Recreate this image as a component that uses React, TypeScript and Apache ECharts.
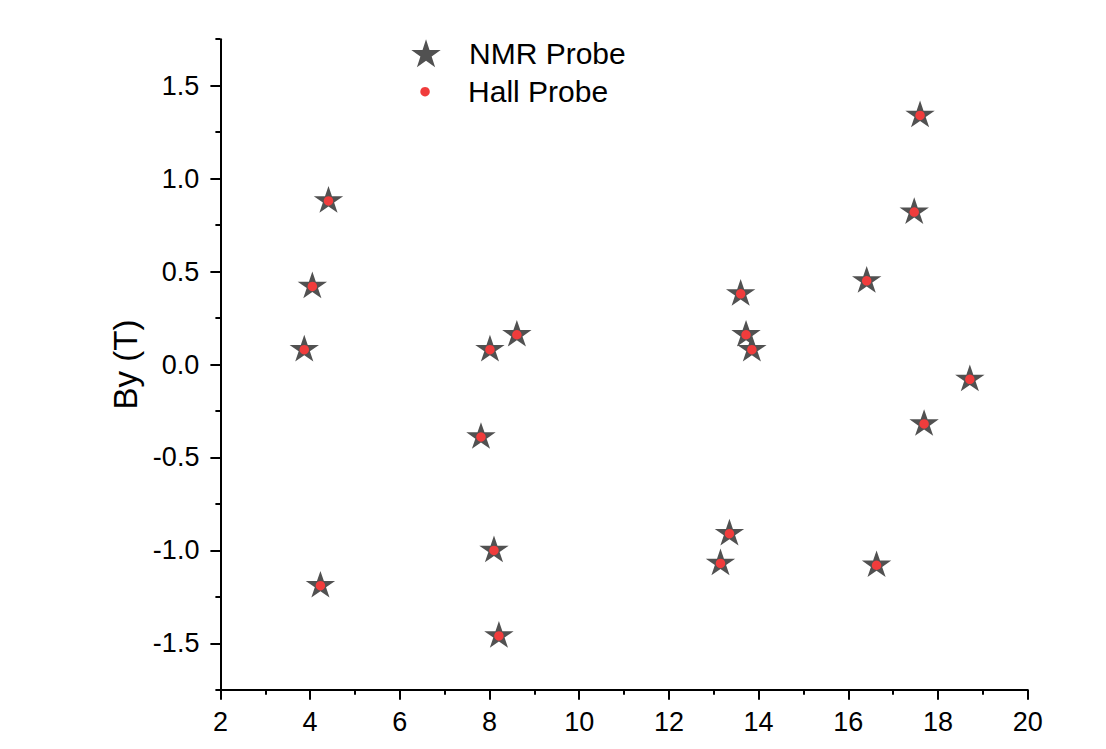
import React, { useEffect, useRef } from "react";
import * as echarts from "echarts";

const xValues = [4.41, 4.05, 3.87, 4.23, 8.61, 8.01, 7.81, 8.1, 8.21, 13.6, 13.72, 13.85, 13.35, 13.15, 17.6, 17.47, 16.41, 18.71, 17.69, 16.63];
const nmrBy = [0.88, 0.42, 0.08, -1.19, 0.16, 0.08, -0.39, -1.0, -1.46, 0.38, 0.16, 0.08, -0.91, -1.07, 1.34, 0.82, 0.45, -0.08, -0.32, -1.08];
const hallBy = [0.88, 0.42, 0.08, -1.19, 0.16, 0.08, -0.39, -1.0, -1.46, 0.38, 0.16, 0.08, -0.91, -1.07, 1.34, 0.82, 0.45, -0.08, -0.32, -1.08];
const seriesNames = ["NMR Probe", "Hall Probe"];
const yAxisTitle = "By (T)";

function starPath(): string {
  const R = 100;
  const r = 38.2;
  const pts: string[] = [];
  for (let i = 0; i < 10; i++) {
    const ang = ((-90 + i * 36) * Math.PI) / 180;
    const rad = i % 2 === 0 ? R : r;
    pts.push(`${(rad * Math.cos(ang)).toFixed(2)} ${(rad * Math.sin(ang)).toFixed(2)}`);
  }
  return "path://M" + pts.join(" L") + " Z";
}

const FONT = "'Liberation Sans', Arial, Helvetica, sans-serif";

export default function App() {
  const ref = useRef<HTMLDivElement>(null);
  useEffect(() => {
    document.body.style.margin = "0";
    if (!ref.current) return;
    const chart = echarts.init(ref.current, null, { renderer: "svg" });
    const star = starPath();
    const nmrData = xValues.map((x, i) => [x, nmrBy[i]]);
    const hallData = xValues.map((x, i) => [x, hallBy[i]]);
    const gridLeft = 220.4;
    const gridRight = 78.3;
    chart.setOption({
      animation: false,
      backgroundColor: "#ffffff",
      textStyle: { fontFamily: FONT },
      grid: [
        { left: gridLeft, right: gridRight, top: 39.2, bottom: 59.2 },
        { left: gridLeft, right: gridRight, top: 85.7, bottom: 105.7 },
      ],
      legend: [
        {
          data: [seriesNames[0]],
          left: 411.3,
          top: 38.3,
          padding: 0,
          itemWidth: 76,
          itemHeight: 28,
          symbolKeepAspect: true,
          textStyle: { fontSize: 30, color: "#000", fontFamily: FONT },
        },
        {
          data: [seriesNames[1]],
          left: 420.3,
          top: 76.7,
          padding: 0,
          itemWidth: 76,
          itemHeight: 9.5,
          symbolKeepAspect: true,
          textStyle: { fontSize: 30, color: "#000", fontFamily: FONT },
        },
      ],
      xAxis: [
        {
          type: "value",
          gridIndex: 0,
          min: 2,
          max: 20,
          interval: 2,
          axisLine: { show: true, onZero: false, lineStyle: { color: "#000", width: 2 } },
          axisTick: { show: true, length: 10, lineStyle: { color: "#000", width: 2 } },
          minorTick: { show: true, splitNumber: 2, length: 5, lineStyle: { color: "#000", width: 2 } },
          axisLabel: { fontSize: 27, color: "#000", margin: 19, fontFamily: FONT },
          splitLine: { show: false },
        },
        {
          type: "value",
          gridIndex: 1,
          min: 2,
          max: 20,
          show: false,
        },
      ],
      yAxis: [
        {
          type: "value",
          gridIndex: 0,
          min: -1.75,
          max: 1.75,
          interval: 0.25,
          axisLine: { show: true, onZero: false, lineStyle: { color: "#000", width: 2 } },
          axisTick: { show: true, length: 5, lineStyle: { color: "#000", width: 2 } },
          axisLabel: { show: false },
          splitLine: { show: false },
        },
        {
          type: "value",
          gridIndex: 1,
          min: -1.5,
          max: 1.5,
          interval: 0.5,
          name: yAxisTitle,
          nameLocation: "middle",
          nameGap: 77,
          nameTextStyle: { fontSize: 33, color: "#000", fontFamily: FONT },
          axisLine: { show: false, onZero: false },
          axisTick: { show: true, length: 10, lineStyle: { color: "#000", width: 2 } },
          axisLabel: {
            fontSize: 27,
            color: "#000",
            margin: 21,
            fontFamily: FONT,
            formatter: (v: number) => v.toFixed(1),
          },
          splitLine: { show: false },
        },
      ],
      series: [
        {
          name: seriesNames[0],
          type: "scatter",
          xAxisIndex: 0,
          yAxisIndex: 0,
          symbol: star,
          symbolSize: [29.4, 28],
          symbolOffset: [0, -1.5],
          symbolKeepAspect: true,
          itemStyle: { color: "#515151", opacity: 1 },
          data: nmrData,
          z: 2,
        },
        {
          name: seriesNames[1],
          type: "scatter",
          xAxisIndex: 0,
          yAxisIndex: 0,
          symbol: "circle",
          symbolSize: 9.5,
          itemStyle: { color: "#f03c3c", opacity: 1 },
          data: hallData,
          z: 3,
        },
      ],
    });
    return () => chart.dispose();
  }, []);
  return <div ref={ref} style={{ width: 1106, height: 749 }} />;
}
